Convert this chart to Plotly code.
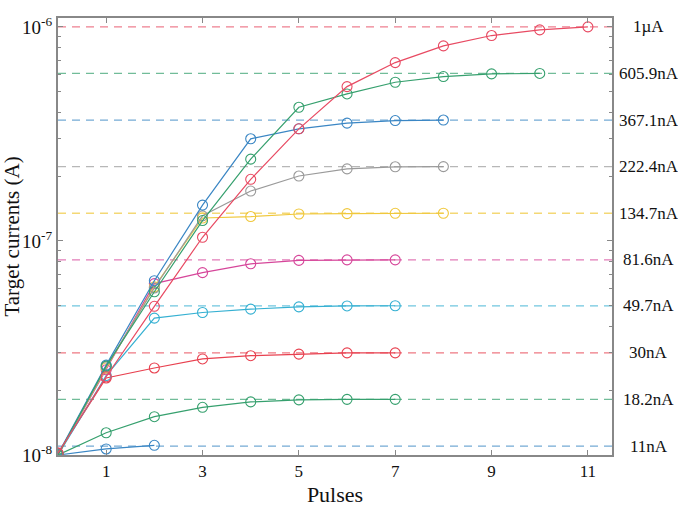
import plotly.graph_objects as go
import math

# Target currents (A) and labels
targets = [1e-6, 605.9e-9, 367.1e-9, 222.4e-9, 134.7e-9, 81.6e-9, 49.7e-9, 30e-9, 18.2e-9, 11e-9]
target_labels = ["1\u00b5A", "605.9nA", "367.1nA", "222.4nA", "134.7nA", "81.6nA", "49.7nA", "30nA", "18.2nA", "11nA"]
colors = ["#e84a62", "#36a06e", "#3a86c4", "#9a9a9a", "#f0c83c", "#d6469a", "#35b0d2", "#e8404f", "#36a06e", "#3a86c4"]

# Measured currents per pulse (nA)
y_1uA = [10.2, 23.2, 49.5, 104, 194, 334, 526, 681, 815, 911, 968, 1000]
y_605 = [10.0, 26.0, 57.9, 124.5, 241, 421, 486, 551, 586, 603, 605.9]
y_367 = [10.1, 26.3, 65.2, 147, 300, 334, 355, 365, 367.1]
y_222 = [10.0, 25.8, 60.3, 131, 171, 201, 217, 222, 222.4]
y_134 = [10.0, 25.5, 61.0, 128, 130, 133.6, 134.2, 134.6, 134.7]
y_81 = [10.0, 25.0, 63.2, 71.1, 78.2, 81.1, 81.6, 81.6]
y_49 = [10.0, 23.5, 43.6, 46.3, 48.0, 49.2, 49.7, 49.8]
y_30 = [10.2, 22.9, 25.5, 28.1, 29.1, 29.6, 30.0, 30.0]
y_18 = [10.0, 12.7, 15.1, 16.7, 17.7, 18.1, 18.2, 18.2]
y_11 = [10.0, 10.67, 11.1]

series = [y_1uA, y_605, y_367, y_222, y_134, y_81, y_49, y_30, y_18, y_11]

x_ticks = [1, 3, 5, 7, 9, 11]
y_ticks = [1e-8, 1e-7, 1e-6]
y_ticktext = ["10<sup>-8</sup>", "10<sup>-7</sup>", "10<sup>-6</sup>"]
y_minor = [m * 1e-8 for m in range(2, 10)] + [m * 1e-7 for m in range(2, 10)]

x_max = 11.5
font_family = "Liberation Serif, Times New Roman, serif"

fig = go.Figure()

# dashed target lines
for t, c in zip(targets, colors):
    fig.add_trace(go.Scatter(
        x=[0, x_max], y=[t, t], mode="lines",
        line=dict(color=c, width=1.3, dash="8px,6px"), opacity=0.7,
        showlegend=False, hoverinfo="skip"))

# measured series
for s, c in reversed(list(zip(series, colors))):
    xs = list(range(len(s)))
    ys = [v * 1e-9 for v in s]
    fig.add_trace(go.Scatter(
        x=xs, y=ys, mode="lines+markers",
        line=dict(color=c, width=1.2),
        marker=dict(symbol="circle-open", size=10, color=c, line=dict(width=1.1)),
        showlegend=False))

for t, lab in zip(targets, target_labels):
    fig.add_annotation(x=1.066, xref="paper", y=math.log10(t), yref="y",
                       text=lab, showarrow=False, xanchor="center", yanchor="middle",
                       font=dict(family=font_family, size=17, color="#111111"))

fig.update_layout(
    width=678, height=509,
    margin=dict(l=58, r=66, t=18, b=54),
    paper_bgcolor="white", plot_bgcolor="white",
    font=dict(family=font_family, size=16, color="#111111"),
)

fig.update_xaxes(
    range=[0, x_max], tickvals=x_ticks, automargin=False,
    ticks="inside", ticklen=5, tickcolor="#888888",
    showline=True, linecolor="#888888", linewidth=2, mirror="ticks",
    showgrid=False, zeroline=False,
    title=dict(text="Pulses", font=dict(family=font_family, size=22), standoff=6),
    tickfont=dict(family=font_family, size=17),
)
fig.update_yaxes(
    type="log", range=[-8, math.log10(1.1e-6)], automargin=False,
    tickvals=y_ticks, ticktext=y_ticktext,
    ticks="inside", ticklen=5, tickcolor="#888888",
    minor=dict(ticks="inside", ticklen=3, tickcolor="#888888", showgrid=False,
               tickmode="array", tickvals=y_minor),
    showline=True, linecolor="#888888", linewidth=2, mirror="ticks",
    showgrid=False, zeroline=False,
    title=dict(text="Target currents (A)", font=dict(family=font_family, size=21), standoff=0),
    tickfont=dict(family=font_family, size=19),
)

fig.write_html("out.html")
